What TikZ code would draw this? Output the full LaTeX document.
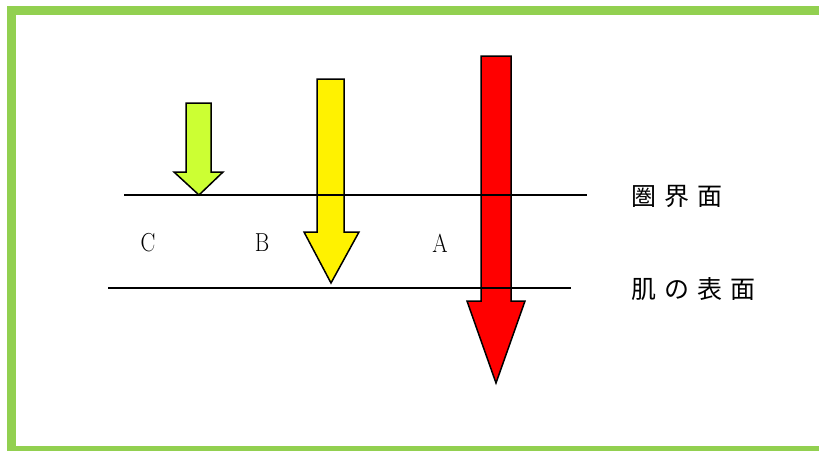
\documentclass[tikz,border=0pt]{standalone}
\usepackage{fontspec}
\newfontfamily\jpfont[LetterSpace=32]{Noto Sans CJK JP}
\usepackage{xcolor}
\usepackage{tikz}
\usetikzlibrary{positioning}
\definecolor{framegreen}{HTML}{92D050}
\definecolor{limegreen}{HTML}{CCFF33}
\tikzset{
  frame/.style={draw=framegreen, line width=9pt},
  level/.style={draw, line width=1.4pt},
  fat/.style={draw, line width=1.5pt, line join=miter},
  zone/.style={font=\fontsize{26}{30}\selectfont, inner sep=0pt, xscale=0.85},
  surf/.style={font=\jpfont\fontsize{25}{30}\selectfont, anchor=west, inner sep=0pt}
}

\begin{document}
\begin{tikzpicture}[x=1pt, y=-1pt]
  \useasboundingbox (0,0) rectangle (819,450);
  \clip (0,0) rectangle (819,450);
  \draw[frame] (11,10) rectangle (830,450.5);

  % the three arrows
  \filldraw[fat, fill=limegreen] (186,103) -- (211,103) -- (211,172) -- (223,172) -- (199,195) -- (174,172) -- (186,172) -- cycle;
  \filldraw[fat, fill=yellow] (317,79) -- (344,79) -- (344,232) -- (359,232) -- (331,283) -- (304,232) -- (317,232) -- cycle;
  \filldraw[fat, fill=red] (481,56) -- (511,56) -- (511,301) -- (525,301) -- (496,383) -- (467,301) -- (481,301) -- cycle;

  % boundary and skin surface
  \coordinate (topL) at (124,195);
  \coordinate (topR) at (587,195);
  \coordinate (skinL) at (108,288);
  \coordinate (skinR) at (571,288);
  \draw[level] (topL) -- (topR);
  \draw[level] (skinL) -- (skinR);

  \node[zone] (zoneC) at (148,243) {C};
  \node[zone] (zoneB) at (262,243) {B};
  \node[zone] (zoneA) at (440,243) {A};

  \node[surf] (boundary) at (631,196) {圏界面};
  \node[surf] (skin) at (631,289) {肌の表面};
\end{tikzpicture}
\end{document}
